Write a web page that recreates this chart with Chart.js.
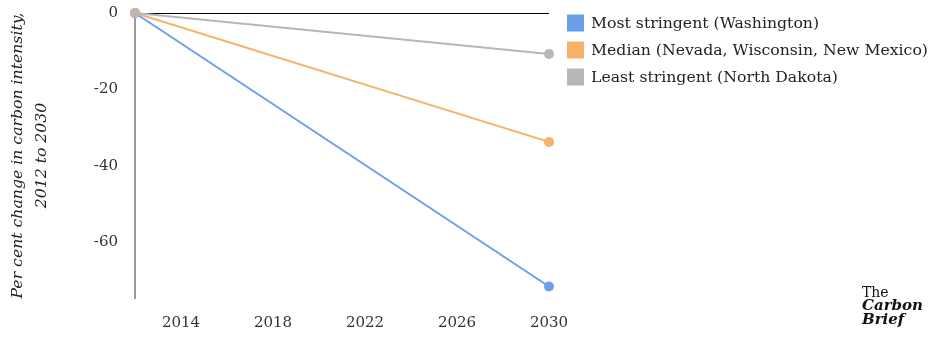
<!doctype html>
<html lang="en">
<head>
	<meta charset="utf-8">
	<title>Carbon intensity targets</title>
	<style>
		* {
			margin: 0;
			padding: 0;
		}

		body {
			background: #fff;
		}

		.chartBox {
			width: 936px;
			height: 343px;
		}
	</style>
</head>
<body>
	<div class="chartBox">
		<canvas id="intensityChart"></canvas>
	</div>
	<script src="https://cdn.jsdelivr.net/npm/chart.js"></script>
	<script>
		// data
		const years = [2012, 2030]
		const mostStringent = [0, -71.5]
		const median = [0, -33.7]
		const leastStringent = [0, -10.7]
		const seriesLabels = [
			'Most stringent (Washington)',
			'Median (Nevada, Wisconsin, New Mexico)',
			'Least stringent (North Dakota)'
		]
		const xTickValues = [2014, 2018, 2022, 2026, 2030]
		const yTickValues = [0, -20, -40, -60]

		const serif = 'DejaVu Serif'
		const colors = ['#6d9eeb', '#f6b26b', '#b7b7b7']

		const toPoints = (vals) => vals.map((v, i) => ({ x: years[i], y: v }))

		const makeSet = (label, vals, color, order) => ({
			label: label,
			data: toPoints(vals),
			borderColor: color,
			backgroundColor: color,
			pointBackgroundColor: color,
			pointBorderWidth: 0,
			pointRadius: 5,
			pointHoverRadius: 5,
			borderWidth: 2,
			order: order,
			clip: false
		})

		// legend on the right + logo in the corner
		const sidePlugin = {
			id: 'side',
			afterDraw(chart) {
				const c = chart.ctx
				c.save()
				c.textBaseline = 'middle'
				c.font = '15.7px ' + serif
				chart.data.datasets.forEach((ds, i) => {
					const cy = 23 + i * 27
					c.fillStyle = ds.backgroundColor
					c.fillRect(567, cy - 8.5, 17, 17)
					c.fillStyle = '#222'
					c.fillText(ds.label, 591, cy + 1)
				})

				c.fillStyle = '#111'
				c.textBaseline = 'alphabetic'
				c.font = '14px ' + serif
				c.fillText('The', 862, 297)
				c.font = 'italic bold 15px ' + serif
				c.fillText('Carbon', 862, 310)
				c.fillText('Brief', 862, 324)
				c.restore()
			}
		}

		const config = {
			type: 'line',
			data: {
				datasets: [
					makeSet(seriesLabels[0], mostStringent, colors[0], 3),
					makeSet(seriesLabels[1], median, colors[1], 2),
					makeSet(seriesLabels[2], leastStringent, colors[2], 1)
				]
			},
			options: {
				responsive: true,
				maintainAspectRatio: false,
				animation: false,
				layout: {
					padding: { top: 0, left: 0, right: 387, bottom: 0 }
				},
				scales: {
					x: {
						type: 'linear',
						min: 2012,
						max: 2030,
						afterBuildTicks: (axis) => {
							axis.ticks = xTickValues.map(v => ({ value: v }))
						},
						afterFit: (axis) => {
							axis.height = 45
						},
						grid: { display: false },
						border: { display: false },
						ticks: {
							color: '#333',
							padding: 8,
							maxRotation: 0,
							font: { family: serif, size: 15 },
							callback: (v) => String(v)
						}
					},
					y: {
						min: -74.5,
						max: 0,
						afterBuildTicks: (axis) => {
							axis.ticks = yTickValues.map(v => ({ value: v }))
						},
						afterFit: (axis) => {
							axis.width = 135
							axis.paddingTop = 13
							axis.paddingBottom = 0
						},
						grid: {
							drawTicks: false,
							color: (ctx) => ctx.tick && ctx.tick.value === 0 ? '#000' : 'rgba(0,0,0,0)',
							lineWidth: 1
						},
						border: { display: true, color: '#999', width: 2 },
						ticks: {
							color: '#333',
							padding: 17,
							font: { family: serif, size: 15 }
						},
						title: {
							display: true,
							text: ['Per cent change in carbon intensity,', '2012 to 2030'],
							color: '#222',
							font: { family: serif, size: 15.7, style: 'italic', lineHeight: 1.53 },
							padding: { top: 6, bottom: 0 }
						}
					}
				},
				plugins: {
					legend: { display: false },
					tooltip: { enabled: false }
				}
			},
			plugins: [sidePlugin]
		}

		const intensityChart = new Chart(
			document.getElementById('intensityChart'),
			config
		)
	</script>
</body>
</html>
